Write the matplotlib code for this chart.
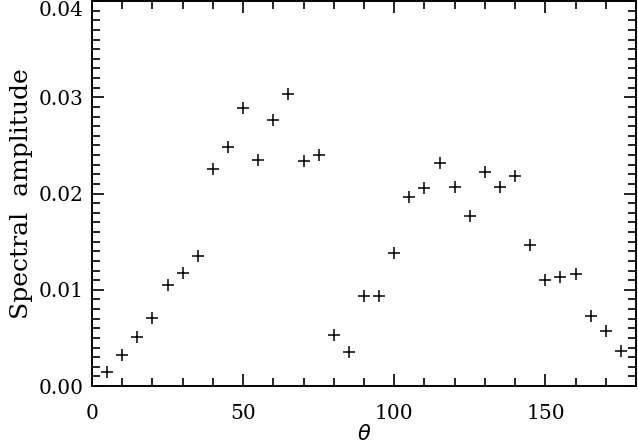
import matplotlib
matplotlib.use("Agg")
import matplotlib.pyplot as plt
from matplotlib.ticker import MultipleLocator, FormatStrFormatter

theta = [5, 10, 15, 20, 25, 30, 35, 40, 45, 50, 55, 60, 65, 70, 75, 80, 85, 90,
         95, 100, 105, 110, 115, 120, 125, 130, 135, 140, 145, 150, 155, 160,
         165, 170, 175]
amplitude = [0.0015, 0.0032, 0.0051, 0.0071, 0.0105, 0.0117, 0.0135, 0.0225,
             0.0248, 0.0289, 0.0235, 0.0276, 0.0303, 0.0234, 0.0240, 0.0053,
             0.0035, 0.0093, 0.0093, 0.0138, 0.0196, 0.0206, 0.0232, 0.0207,
             0.0177, 0.0222, 0.0207, 0.0218, 0.0147, 0.0110, 0.0113, 0.0116,
             0.0073, 0.0057, 0.0036]

fig = plt.figure(figsize=(6.38, 4.47), dpi=100)
ax = fig.add_axes([92/638, (447-386)/447, (636-92)/638, (386-1)/447])
ax.plot(theta, amplitude, linestyle='none', marker='+', markersize=8,
        markeredgewidth=1.1, color='black')
ax.set_xlim(0, 180)
ax.set_ylim(0, 0.04)
ax.xaxis.set_major_locator(MultipleLocator(50))
ax.xaxis.set_minor_locator(MultipleLocator(10))
ax.yaxis.set_major_locator(MultipleLocator(0.01))
ax.yaxis.set_minor_locator(MultipleLocator(0.001))
ax.yaxis.set_major_formatter(FormatStrFormatter('%.2f'))
ax.tick_params(which='both', direction='in', top=True, right=True, width=1.2,
               labelsize=14.5)
ax.tick_params(axis='y', pad=6)
ax.tick_params(axis='x', pad=13)
ax.tick_params(which='major', length=8.5)
ax.tick_params(which='minor', length=5.5)
for s in ax.spines.values():
    s.set_linewidth(1.4)
ax.set_xlabel(r'$\theta$', fontsize=15, labelpad=1)
ax.set_ylabel('Spectral  amplitude', fontsize=18, family='DejaVu Serif', labelpad=4)

fig.canvas.draw()
for t in ax.yaxis.get_major_ticks():
    t.label1.set_family('DejaVu Serif')
for t in ax.xaxis.get_major_ticks():
    t.label1.set_family('DejaVu Serif')
ticks = ax.yaxis.get_major_ticks()
locs = ax.yaxis.get_majorticklocs()
for t, v in zip(ticks, locs):
    if abs(v - 0.04) < 1e-9:
        t.label1.set_verticalalignment('top')
fig.savefig('out.png', dpi=100)
